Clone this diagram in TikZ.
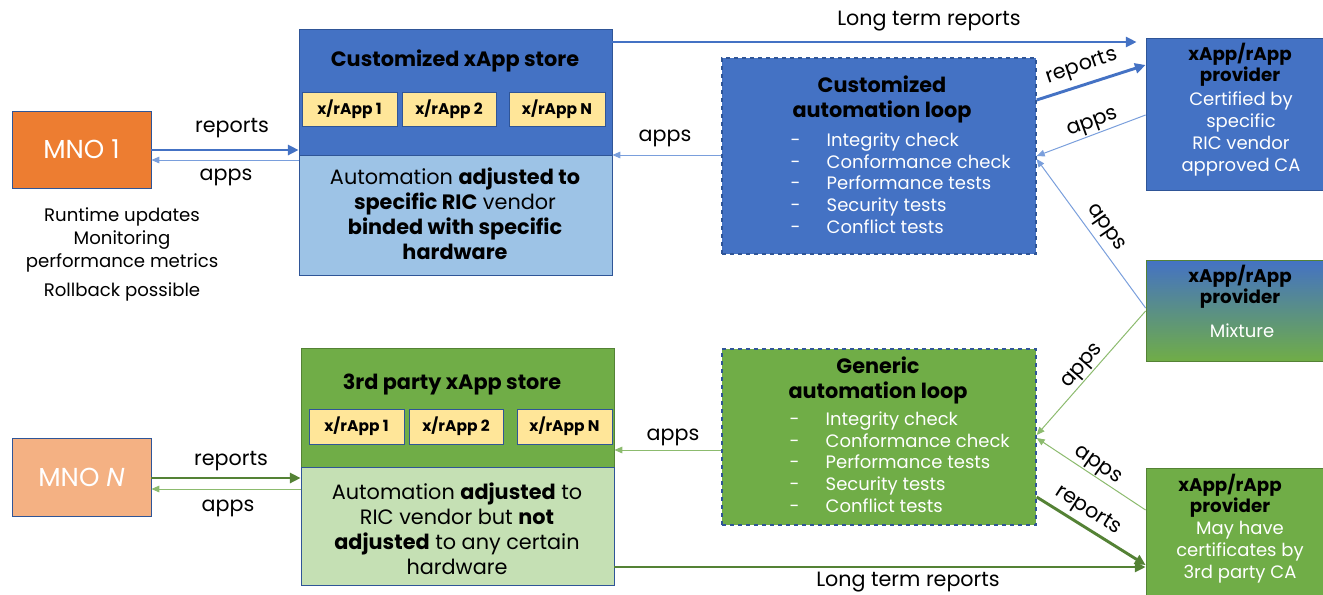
\documentclass[tikz,border=0pt]{standalone}
\usepackage{fontspec}
\setmainfont{Poppins}
\usetikzlibrary{arrows.meta,fit}
\definecolor{cblue}{HTML}{4472C4}
\definecolor{cdblue}{HTML}{2F5597}
\definecolor{clblue}{HTML}{9DC3E6}
\definecolor{cthin}{HTML}{7A9FDC}
\definecolor{cgreen}{HTML}{70AD47}
\definecolor{cdgreen}{HTML}{548235}
\definecolor{clgreen}{HTML}{C5E0B4}
\definecolor{cthing}{HTML}{8CBB6E}
\definecolor{corange}{HTML}{ED7D31}
\definecolor{clorange}{HTML}{F4B183}
\definecolor{cyellow}{HTML}{FFE699}
\begin{document}
\begin{tikzpicture}[x=0.75pt,y=-0.75pt,
  font=\fontsize{15.5}{18}\selectfont,
  rbox/.style={inner sep=0pt, draw=cdblue, line width=0.6pt},
  appbox/.style={rbox, fill=cyellow},
  apptxt/.style={font=\fontsize{11.6}{13}\selectfont\bfseries},
  mnotxt/.style={text=white, font=\fontsize{19.5}{22}\selectfont},
  loopbox/.style={inner sep=0pt, draw=cdblue, dashed, line width=1pt},
  bigtxt/.style={align=center, font=\fontsize{15.6}{18.75}\selectfont},
  ttl/.style={align=center, font=\fontsize{15.6}{18.75}\selectfont\bfseries},
  ptitle/.style={align=center, font=\fontsize{13.7}{15.75}\selectfont\bfseries},
  ptxt/.style={align=center, text=white, font=\fontsize{13.5}{16.4}\selectfont},
  items/.style={align=left, anchor=north west, text=white, font=\fontsize{13.5}{16.3}\selectfont},
  notes/.style={align=center, font=\fontsize{13.6}{17.5}\selectfont},
  lbl/.style={font=\fontsize{15.5}{18}\selectfont},
  thickb/.style={draw=cblue, line width=2.2pt, -{Triangle[length=8pt,width=7.5pt]}},
  thinb/.style={draw=cthin, line width=0.75pt, -{Triangle[length=6pt,width=5pt]}},
  thickg/.style={draw=cdgreen, line width=2.2pt, -{Triangle[length=8pt,width=7.5pt]}},
  thing/.style={draw=cthing, line width=0.75pt, -{Triangle[length=6pt,width=5pt]}}]
\useasboundingbox (0,0) rectangle (1323,594);

% ---------- MNO boxes ----------
\node[rbox, fill=corange, fit={(12,111)(151,188)}] (mno1) {};
\node[mnotxt] (mno1t) at (mno1.center) {MNO 1};
\node[rbox, fill=clorange, fit={(12,438)(151,516)}] (mnon) {};
\node[mnotxt] (mnont) at (mnon.center) {MNO \textit{N}};
\node[notes] (notes1) at (122,240)
  {Runtime updates\\Monitoring\\performance metrics};
\node[notes] (notes2) at (122,292) {Rollback possible};

% ---------- Customized store ----------
\node[rbox, fill=cblue, fit={(299,29)(612,155)}] (store1) {};
\node[rbox, fill=clblue, fit={(299,155)(612,275)}] (store1b) {};
\node[ttl] (store1t) at (455,61) {Customized xApp store};
\node[appbox, fit={(302,92)(397,126)}] (a11) {};
\node[appbox, fit={(402,92)(496,126)}] (a12) {};
\node[appbox, fit={(509,92)(605,126)}] (a1n) {};
\node[apptxt] at (a11.center) {x/rApp 1};
\node[apptxt] at (a12.center) {x/rApp 2};
\node[apptxt] at (a1n.center) {x/rApp N};
\node[bigtxt] (store1d) at (455,214)
  {Automation \textbf{adjusted to}\\\textbf{specific RIC} vendor\\\textbf{binded with specific}\\\textbf{hardware}};

% ---------- 3rd party store ----------
\node[rbox, draw=cdgreen, fill=cgreen, fit={(301,348)(614,467)}] (store2) {};
\node[rbox, fill=clgreen, fit={(301,467)(614,585)}] (store2b) {};
\node[ttl] (store2t) at (452,384) {3rd party xApp store};
\node[appbox, fit={(309,409)(404,444)}] (a21) {};
\node[appbox, fit={(409,409)(503,444)}] (a22) {};
\node[appbox, fit={(517,409)(612,444)}] (a2n) {};
\node[apptxt] at (a21.center) {x/rApp 1};
\node[apptxt] at (a22.center) {x/rApp 2};
\node[apptxt] at (a2n.center) {x/rApp N};
\node[bigtxt] (store2d) at (457,529)
  {Automation \textbf{adjusted} to\\RIC vendor but \textbf{not}\\\textbf{adjusted} to any certain\\hardware};

% ---------- Automation loops ----------
\node[loopbox, fill=cblue, fit={(722,58)(1036,254)}] (loop1) {};
\node[ttl] (loop1t) at (882,99) {Customized\\automation loop};
\node[items] (loop1i) at (786,128)
  {\makebox[27pt][l]{-}Integrity check\\\makebox[27pt][l]{-}Conformance check\\\makebox[27pt][l]{-}Performance tests\\\makebox[27pt][l]{-}Security tests\\\makebox[27pt][l]{-}Conflict tests};

\node[loopbox, fill=cgreen, fit={(722,349)(1036,525)}] (loop2) {};
\node[ttl] (loop2t) at (878,380) {Generic\\automation loop};
\node[items] (loop2i) at (785,407)
  {\makebox[27pt][l]{-}Integrity check\\\makebox[27pt][l]{-}Conformance check\\\makebox[27pt][l]{-}Performance tests\\\makebox[27pt][l]{-}Security tests\\\makebox[27pt][l]{-}Conflict tests};

% ---------- Providers ----------
\node[rbox, fill=cblue, fit={(1146,38)(1326,190)}] (prov1) {};
\node[ptitle] (prov1t) at (1240,65) {xApp/rApp\\provider};
\node[ptxt] (prov1d) at (1241,134) {Certified by\\specific\\RIC vendor\\approved CA};

\node[rbox, draw=cdgreen, top color=cblue, bottom color=cgreen, fit={(1146,260)(1326,361)}] (prov2) {};
\node[ptitle] (prov2t) at (1240,287) {xApp/rApp\\provider};
\node[ptxt] (prov2d) at (1242,331) {Mixture};

\node[rbox, draw=cdgreen, fill=cgreen, fit={(1146,468)(1326,600)}] (prov3) {};
\node[ptitle] (prov3t) at (1230,496) {xApp/rApp\\provider};
\node[ptxt] (prov3d) at (1240,552) {May have\\certificates by\\3rd party CA};

% ---------- Connectors: MNO <-> stores ----------
\draw[thickb] (mno1.east |- 0,150) -- (store1.west |- 0,150);
\draw[thinb] (store1b.west |- 0,160) -- (mno1.east |- 0,160);
\node[lbl] (l1) at (232,128) {reports};
\node[lbl] (l2) at (226,177) {apps};

\draw[thickg] (mnon.east |- 0,478) -- (store2b.west |- 0,478);
\draw[thing] (store2b.west |- 0,489) -- (mnon.east |- 0,489);
\node[lbl] (l3) at (231,461) {reports};
\node[lbl] (l4) at (228,508) {apps};

% ---------- loops -> stores ----------
\draw[thinb] (loop1.west |- 0,155) -- (store1.east |- 0,155);
\node[lbl] (l5) at (665,138) {apps};
\draw[thing] (loop2.west |- 0,450) -- (store2.east |- 0,450);
\node[lbl] (l6) at (673,437) {apps};

% ---------- long term reports ----------
\draw[thickb, line width=1.8pt, shorten >=6.75pt] (store1.east |- 0,42) -- (prov1.west |- 0,42);
\node[lbl] (l7) at (929,21) {Long term reports};
\draw[thickg, line width=1.8pt] (store2b.east |- 0,567) -- (prov3.west |- 0,567);
\node[lbl] (l8) at (908,582) {Long term reports};

% ---------- loops <-> providers ----------
\draw[thickb] (loop1.east |- 0,100) -- (prov1.west |- 0,65);
\node[lbl, rotate=19] (l9) at (1082,67) {reports};
\draw[thinb] (prov1.west |- 0,115) -- (loop1.east |- 0,156);
\node[lbl, rotate=20] (l10) at (1093,124) {apps};
\draw[thinb] (prov2.west |- 0,308) -- (loop1.east |- 0,159);
\node[lbl, rotate=-55] (l11) at (1105,228) {apps};

\draw[thing] (prov2.west |- 0,311) -- (loop2.east |- 0,435);
\node[lbl, rotate=49] (l12) at (1083,367) {apps};
\draw[thing] (prov3.west |- 0,510) -- (loop2.east |- 0,438);
\node[lbl, rotate=-35] (l13) at (1097,466) {apps};
\draw[thickg] (loop2.east |- 0,497) -- (prov3.west |- 0,565);
\node[lbl, rotate=-33] (l14) at (1088,511) {reports};
\end{tikzpicture}
\end{document}
